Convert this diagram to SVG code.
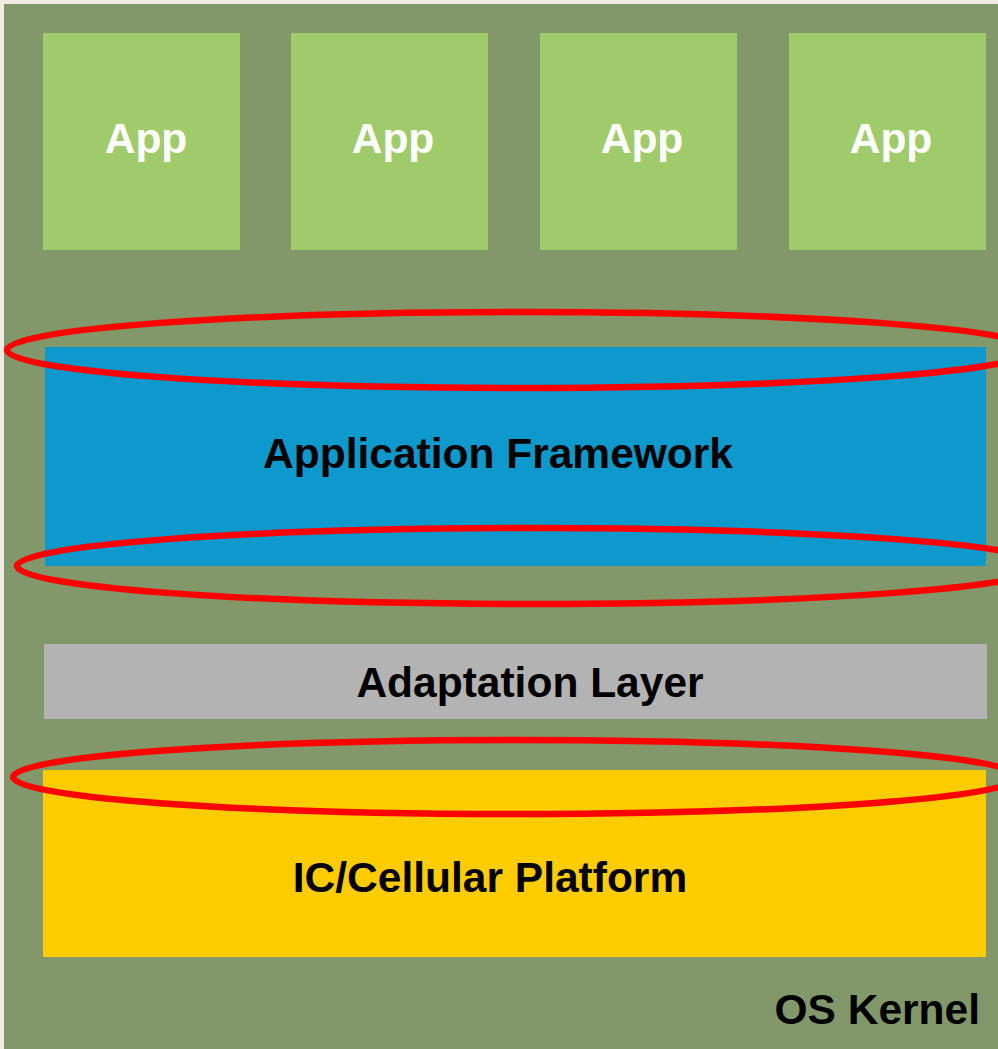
<svg xmlns="http://www.w3.org/2000/svg" width="998" height="1049" viewBox="0 0 998 1049">
  <style>
    .lbl { font-family: "Liberation Sans", Arial, sans-serif; font-weight: bold; font-size: 42.5px; text-anchor: middle; }
    .app rect { fill: #a0cb6a; }
    .app text { fill: #ffffff; }
    .dark { fill: #000000; }
    .ring { fill: none; stroke: #ff0000; stroke-width: 6.5; }
  </style>

  <!-- page margin and kernel backdrop -->
  <rect x="0" y="0" width="998" height="1049" fill="#f1ece3"/>
  <g id="os-kernel">
    <rect x="4" y="4" width="994" height="1045" fill="#82986a"/>
    <text class="lbl dark" x="980" y="1024" style="text-anchor:end">OS Kernel</text>
  </g>

  <!-- application row -->
  <g id="app-1" class="app">
    <rect x="43" y="33" width="197" height="217"/>
    <text class="lbl" x="146" y="153">App</text>
  </g>
  <g id="app-2" class="app">
    <rect x="291" y="33" width="197" height="217"/>
    <text class="lbl" x="393" y="153">App</text>
  </g>
  <g id="app-3" class="app">
    <rect x="540" y="33" width="197" height="217"/>
    <text class="lbl" x="642" y="153">App</text>
  </g>
  <g id="app-4" class="app">
    <rect x="789" y="33" width="197" height="217"/>
    <text class="lbl" x="891" y="153">App</text>
  </g>

  <!-- middleware layers -->
  <g id="application-framework">
    <rect x="45" y="347" width="941" height="219" fill="#0e99cc"/>
    <text class="lbl dark" x="498" y="468">Application Framework</text>
  </g>
  <g id="adaptation-layer">
    <rect x="44" y="644" width="943" height="75" fill="#b3b3b3"/>
    <text class="lbl dark" x="530" y="697">Adaptation Layer</text>
  </g>
  <g id="platform">
    <rect x="43" y="770" width="943" height="187" fill="#ffcc00"/>
    <text class="lbl dark" x="490" y="892">IC/Cellular Platform</text>
  </g>

  <!-- highlighted interfaces between layers -->
  <g id="interfaces">
    <ellipse class="ring" cx="520" cy="350" rx="513" ry="38"/>
    <ellipse class="ring" cx="531" cy="566" rx="514" ry="38"/>
    <ellipse class="ring" cx="516" cy="777" rx="503" ry="37"/>
  </g>
</svg>
